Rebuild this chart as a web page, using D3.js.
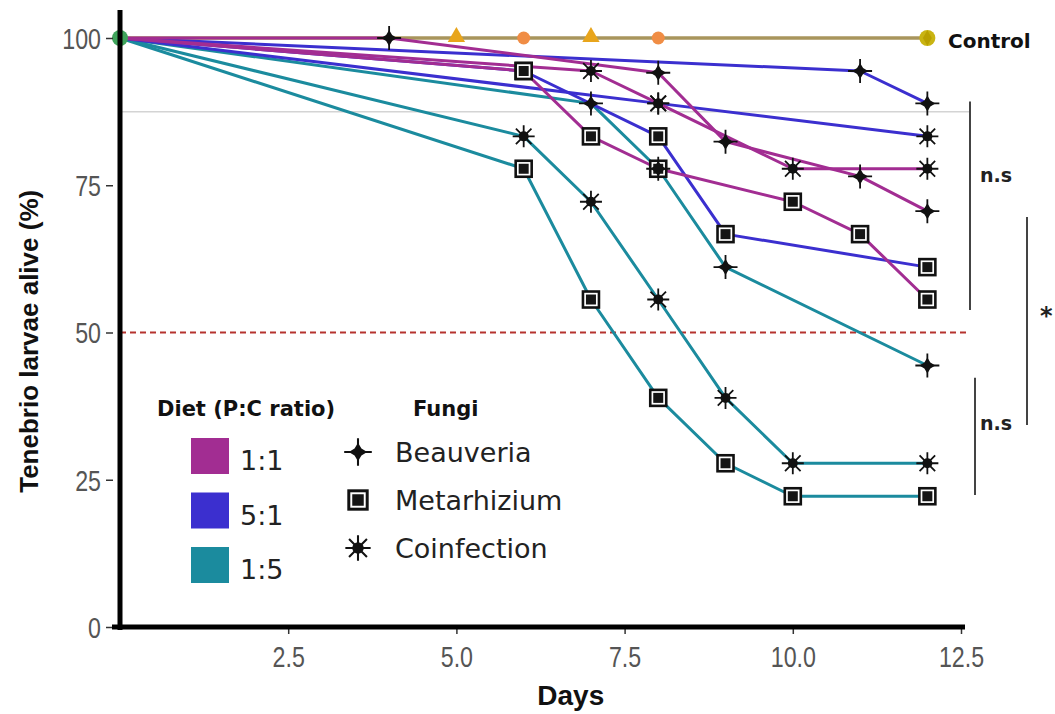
<!DOCTYPE html>
<html>
<head>
<meta charset="utf-8">
<script src="https://cdn.jsdelivr.net/npm/d3@7/dist/d3.min.js"></script>
<style>
  html, body { margin: 0; padding: 0; background: #fff; }
  svg { display: block; }
</style>
</head>
<body>
<svg id="chart" width="1055" height="714"></svg>
<script>
// ---------------- DATA ----------------
const diets = ["1:1", "5:1", "1:5"];
const fungi = ["Beauveria", "Metarhizium", "Coinfection"];
const xTicks = [2.5, 5.0, 7.5, 10.0, 12.5];
const yTicks = [0, 25, 50, 75, 100];

// Diet 1:1
const b11Days = [0, 4, 8, 9, 11, 12];
const b11Vals = [100, 100, 94.1, 82.4, 76.5, 70.6];
const m11Days = [0, 6, 7, 8, 10, 11, 12];
const m11Vals = [100, 94.4, 83.3, 77.8, 72.2, 66.7, 55.6];
const c11Days = [0, 7, 8, 10, 12];
const c11Vals = [100, 94.4, 88.9, 77.8, 77.8];
// Diet 5:1
const b51Days = [0, 11, 12];
const b51Vals = [100, 94.4, 88.9];
const m51Days = [0, 6, 8, 9, 12];
const m51Vals = [100, 94.4, 83.3, 66.7, 61.1];
const c51Days = [0, 8, 12];
const c51Vals = [100, 88.9, 83.3];
// Diet 1:5
const b15Days = [0, 7, 8, 9, 12];
const b15Vals = [100, 88.9, 77.8, 61.1, 44.4];
const m15Days = [0, 6, 7, 8, 9, 10, 12];
const m15Vals = [100, 77.8, 55.6, 38.9, 27.8, 22.2, 22.2];
const c15Days = [0, 6, 7, 8, 9, 10, 12];
const c15Vals = [100, 83.3, 72.2, 55.6, 38.9, 27.8, 27.8];
// Control
const controlDays = [0, 12];
const controlVals = [100, 100];
const controlMarkerDays = [0, 5, 6, 7, 8, 12];
const controlMarkerKinds = ["start", "tri", "circ", "tri", "circ", "end"];

const refLine50 = 50;
const refLineGrey = 87.5;

// ---------------- BUILD ----------------
const dietColor = { "1:1": "#a22d92", "5:1": "#3b2fcf", "1:5": "#1b8b9e" };
const series = [
  { diet: "1:5", fungus: "Beauveria", days: b15Days, vals: b15Vals },
  { diet: "1:5", fungus: "Metarhizium", days: m15Days, vals: m15Vals },
  { diet: "1:5", fungus: "Coinfection", days: c15Days, vals: c15Vals },
  { diet: "5:1", fungus: "Beauveria", days: b51Days, vals: b51Vals },
  { diet: "5:1", fungus: "Metarhizium", days: m51Days, vals: m51Vals },
  { diet: "5:1", fungus: "Coinfection", days: c51Days, vals: c51Vals },
  { diet: "1:1", fungus: "Beauveria", days: b11Days, vals: b11Vals },
  { diet: "1:1", fungus: "Metarhizium", days: m11Days, vals: m11Vals },
  { diet: "1:1", fungus: "Coinfection", days: c11Days, vals: c11Vals }
];

const svg = d3.select("#chart");
const x = d3.scaleLinear().domain([0, 12.5]).range([120, 961]);
const y = d3.scaleLinear().domain([0, 100]).range([627, 38]);

// Reference lines
svg.append("line")
  .attr("x1", x(0)).attr("x2", 970)
  .attr("y1", y(refLineGrey)).attr("y2", y(refLineGrey))
  .attr("stroke", "#d4d4d4").attr("stroke-width", 1.5);
svg.append("line")
  .attr("x1", x(0)).attr("x2", 970)
  .attr("y1", y(refLine50)).attr("y2", y(refLine50))
  .attr("stroke", "#b5332e").attr("stroke-width", 2)
  .attr("stroke-dasharray", "6,4");

const line = d3.line().x(d => x(d[0])).y(d => y(d[1]));

// Control line
svg.append("path")
  .datum(controlDays.map((d, i) => [d, controlVals[i]]))
  .attr("d", line).attr("fill", "none")
  .attr("stroke", "#a8955c").attr("stroke-width", 3.5);

// Series lines
series.forEach(s => {
  svg.append("path")
    .datum(s.days.map((d, i) => [d, s.vals[i]]))
    .attr("d", line).attr("fill", "none")
    .attr("stroke", dietColor[s.diet]).attr("stroke-width", 3)
    .attr("stroke-linejoin", "round");
});

// Marker drawers
function drawMarker(g, kind, cx, cy, k) {
  k = k || 1;
  const m = g.append("g").attr("transform", `translate(${cx},${cy}) scale(${k})`);
  if (kind === "Beauveria") {
    m.append("path").attr("d", "M0,-12L0,12M-12,0L12,0")
      .attr("stroke", "#111").attr("stroke-width", 1.8);
    m.append("path").attr("d", "M0,-8L3,-3L8,0L3,3L0,8L-3,3L-8,0L-3,-3Z")
      .attr("fill", "#111");
  } else if (kind === "Metarhizium") {
    m.append("rect").attr("x", -8).attr("y", -8).attr("width", 16).attr("height", 16)
      .attr("fill", "#fff").attr("stroke", "#111").attr("stroke-width", 2.6);
    m.append("rect").attr("x", -5).attr("y", -5).attr("width", 10).attr("height", 10)
      .attr("fill", "#151515");
  } else if (kind === "Coinfection") {
    const r = 11;
    let d = "";
    for (let i = 0; i < 4; i++) {
      const a = i * Math.PI / 4;
      d += `M${(r * Math.cos(a)).toFixed(2)},${(r * Math.sin(a)).toFixed(2)}L${(-r * Math.cos(a)).toFixed(2)},${(-r * Math.sin(a)).toFixed(2)}`;
    }
    m.append("path").attr("d", d).attr("stroke", "#111").attr("stroke-width", 1.8);
    m.append("circle").attr("r", 5).attr("fill", "#111");
  }
}

const markersG = svg.append("g");
["Metarhizium", "Coinfection", "Beauveria"].forEach(kind => {
  series.filter(s => s.fungus === kind).forEach(s => {
    s.days.forEach((d, i) => {
      if (d === 0) return;
      drawMarker(markersG, kind, x(d), y(s.vals[i]));
    });
  });
});

// Control markers
const cg = svg.append("g");
controlMarkerDays.forEach((d, i) => {
  const kind = controlMarkerKinds[i];
  const cx = x(d), cy = y(100);
  if (kind === "start") {
    cg.append("circle").attr("cx", cx).attr("cy", cy).attr("r", 8).attr("fill", "#3fa45b");
  } else if (kind === "tri") {
    cg.append("path").attr("d", d3.symbol().type(d3.symbolTriangle).size(130)())
      .attr("transform", `translate(${cx},${cy - 1})`).attr("fill", "#e8a51c");
  } else if (kind === "circ") {
    cg.append("circle").attr("cx", cx).attr("cy", cy).attr("r", 6.5).attr("fill", "#f08d45");
  } else {
    cg.append("circle").attr("cx", cx).attr("cy", cy).attr("r", 8).attr("fill", "#c9b412");
    cg.append("path").attr("d", d3.symbol().type(d3.symbolDiamond).size(70)())
      .attr("transform", `translate(${cx},${cy})`).attr("fill", "#b9a000");
  }
});

// Axes
const narrow = 0.8;
const xAxis = svg.append("g").attr("transform", `translate(0,${y(0)})`)
  .call(d3.axisBottom(x).tickValues(xTicks).tickFormat(d3.format(".1f")).tickSize(7).tickPadding(12));
xAxis.select(".domain").remove();
xAxis.selectAll(".tick line").attr("stroke", "#333").attr("stroke-width", 1.5);
xAxis.selectAll(".tick text")
  .attr("font-family", "'Liberation Sans', Arial, sans-serif")
  .attr("font-size", 29).attr("fill", "#555")
  .attr("transform", `scale(${narrow},1)`);

const yAxis = svg.append("g").attr("transform", `translate(${x(0)},0)`)
  .call(d3.axisLeft(y).tickValues(yTicks).tickFormat(d3.format("d")).tickSize(14).tickPadding(4));
yAxis.select(".domain").remove();
yAxis.selectAll(".tick line").attr("stroke", "#333").attr("stroke-width", 1.5)
  .attr("x1", -7).attr("x2", -14);
yAxis.selectAll(".tick text")
  .attr("font-family", "'Liberation Sans', Arial, sans-serif")
  .attr("font-size", 29).attr("fill", "#555").attr("dy", "0.36em")
  .attr("x", -19 / narrow)
  .attr("transform", `scale(${narrow},1)`);

// Axis lines (thick)
svg.append("line").attr("x1", x(0)).attr("x2", x(0)).attr("y1", 10).attr("y2", y(0) + 3)
  .attr("stroke", "#000").attr("stroke-width", 5);
svg.append("line").attr("x1", x(0) - 8).attr("x2", x(12.5) + 4).attr("y1", y(0)).attr("y2", y(0))
  .attr("stroke", "#000").attr("stroke-width", 5);

// Axis titles
svg.append("text").attr("x", x(6.7)).attr("y", 705).attr("text-anchor", "middle")
  .attr("font-family", "'Liberation Sans', Arial, sans-serif").attr("font-weight", "bold")
  .attr("font-size", 28).attr("fill", "#111").text("Days");
svg.append("text").attr("transform", `translate(38,${y(48.5)}) rotate(-90)`).attr("text-anchor", "middle")
  .attr("font-family", "'Liberation Sans', Arial, sans-serif").attr("font-weight", "bold")
  .attr("font-size", 26).attr("fill", "#111").text("Tenebrio larvae alive (%)");

// Control label
svg.append("text").attr("x", 948).attr("y", 48)
  .attr("font-family", "'DejaVu Sans', sans-serif").attr("font-weight", "bold")
  .attr("font-size", 20).attr("fill", "#111").text("Control");

// Significance brackets
const brackets = [
  { x: 970, from: 89.2, to: 53.8, label: "n.s", lx: 980, ly: 75.5 },
  { x: 1027, from: 69.6, to: 34.3, label: "*", lx: 1040, ly: 51.5 },
  { x: 975, from: 42.3, to: 22.4, label: "n.s", lx: 980, ly: 33.5 }
];
brackets.forEach(b => {
  svg.append("line").attr("x1", b.x).attr("x2", b.x).attr("y1", y(b.from)).attr("y2", y(b.to))
    .attr("stroke", "#444").attr("stroke-width", 2);
  svg.append("text").attr("x", b.lx).attr("y", y(b.ly))
    .attr("font-family", "'DejaVu Sans', sans-serif").attr("font-weight", "bold")
    .attr("font-size", b.label === "*" ? 24 : 19).attr("fill", "#222").text(b.label);
});

// Legend: diet
const lg = svg.append("g");
lg.append("text").attr("x", 157).attr("y", 416)
  .attr("font-family", "'DejaVu Sans', sans-serif").attr("font-weight", "bold")
  .attr("font-size", 21).attr("fill", "#111").text("Diet (P:C ratio)");
diets.forEach((d, i) => {
  const yy = 438 + i * 54.5;
  lg.append("rect").attr("x", 191).attr("y", yy).attr("width", 38).attr("height", 36)
    .attr("fill", dietColor[d]);
  lg.append("text").attr("x", 240).attr("y", yy + 32)
    .attr("font-family", "'DejaVu Sans', sans-serif").attr("font-size", 27)
    .attr("fill", "#222").text(d);
});
// Legend: fungi
lg.append("text").attr("x", 413).attr("y", 416)
  .attr("font-family", "'DejaVu Sans', sans-serif").attr("font-weight", "bold")
  .attr("font-size", 21).attr("fill", "#111").text("Fungi");
fungi.forEach((f, i) => {
  const yy = 452 + i * 48;
  drawMarker(lg, f, 358, yy, 1.15);
  lg.append("text").attr("x", 395).attr("y", yy + 10)
    .attr("font-family", "'DejaVu Sans', sans-serif").attr("font-size", 27)
    .attr("fill", "#222").text(f);
});
</script>
</body>
</html>
